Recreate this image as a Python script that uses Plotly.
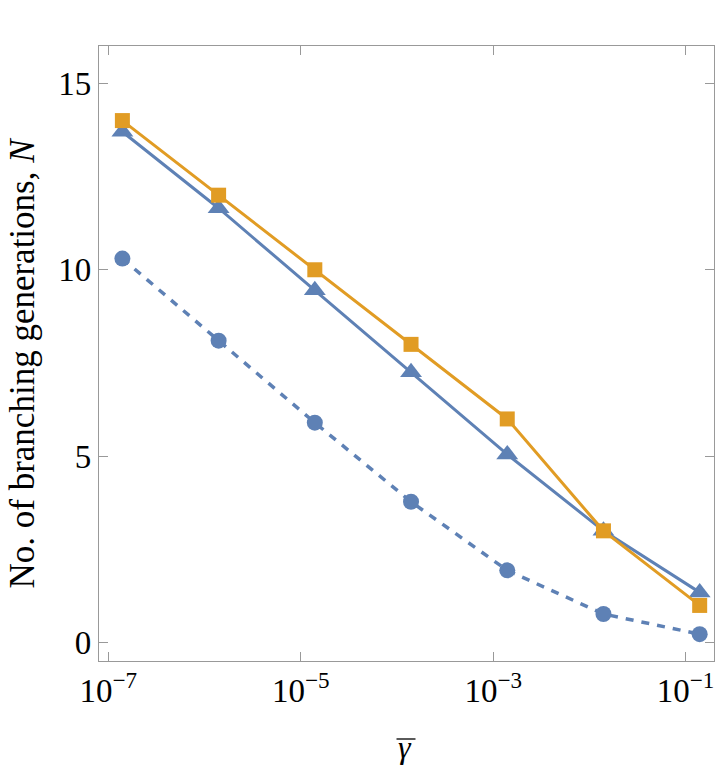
import plotly.graph_objects as go

# --- DATA ---
gamma_bar = [1.4e-7, 1.4e-6, 1.4e-5, 1.4e-4, 1.4e-3, 1.4e-2, 1.4e-1]
n_squares = [14, 12, 10, 8, 6, 3, 1]
n_triangles = [13.7, 11.65, 9.45, 7.25, 5.05, 3.0, 1.35]
n_circles = [10.3, 8.1, 5.9, 3.78, 1.94, 0.77, 0.23]

x_tickvals = [1e-7, 1e-5, 1e-3, 1e-1]
x_ticktext = ["10<sup>\u22127</sup>", "10<sup>\u22125</sup>", "10<sup>\u22123</sup>", "10<sup>\u22121</sup>"]
y_tickvals = [0, 5, 10, 15]

BLUE = "#5E81B5"
ORANGE = "#E19C24"
FONT = "Liberation Serif, Times New Roman, serif"
FRAME = "#999999"

fig = go.Figure()

fig.add_trace(go.Scatter(
    x=gamma_bar, y=n_circles, mode="lines+markers",
    line=dict(color=BLUE, width=3.5, dash="8px,8px"),
    marker=dict(symbol="circle", size=16, color=BLUE),
))
fig.add_trace(go.Scatter(
    x=gamma_bar, y=n_triangles, mode="lines+markers",
    line=dict(color=BLUE, width=3),
    marker=dict(symbol="triangle-up", size=19, color=BLUE),
))
fig.add_trace(go.Scatter(
    x=gamma_bar, y=n_squares, mode="lines+markers",
    line=dict(color=ORANGE, width=3),
    marker=dict(symbol="square", size=15, color=ORANGE),
))

axis_common = dict(
    showline=True, linecolor=FRAME, linewidth=1.3, mirror="allticks",
    ticks="inside", ticklen=9, tickcolor=FRAME, tickwidth=1.3,
    showgrid=False, zeroline=False,
    tickfont=dict(family=FONT, size=33, color="black"),
)

fig.update_layout(
    width=722, height=770,
    margin=dict(l=99, r=8, t=46, b=109),
    paper_bgcolor="white", plot_bgcolor="white",
    showlegend=False,
    xaxis=dict(type="log", range=[-7.097, -0.705],
               tickvals=x_tickvals, ticktext=x_ticktext, **axis_common),
    yaxis=dict(range=[-0.49, 16], tickvals=y_tickvals, **axis_common),
    annotations=[
        # y axis title
        dict(text="No. of branching generations, <i>N</i>", textangle=-90,
             xref="paper", yref="paper", x=0, y=0.5, xshift=-77, yshift=-10,
             showarrow=False, xanchor="center", yanchor="middle",
             font=dict(family=FONT, size=35, color="black")),
        # x axis title (gamma, bar drawn as a shape)
        dict(text="<i>\u03b3</i>", xref="paper", yref="paper",
             x=0.5, y=0, xshift=-2, yshift=-86, showarrow=False,
             xanchor="center", yanchor="middle",
             font=dict(family=FONT, size=32, color="black")),
    ],
    shapes=[
        dict(type="line", xref="paper", yref="paper",
             xsizemode="pixel", xanchor=0.5, x0=-10, x1=9,
             ysizemode="pixel", yanchor=0, y0=-78, y1=-78,
             line=dict(color="black", width=1.3)),
    ],
)

fig.write_html("out.html", config={"displayModeBar": False},
               post_script="document.body.style.margin='0px';")
